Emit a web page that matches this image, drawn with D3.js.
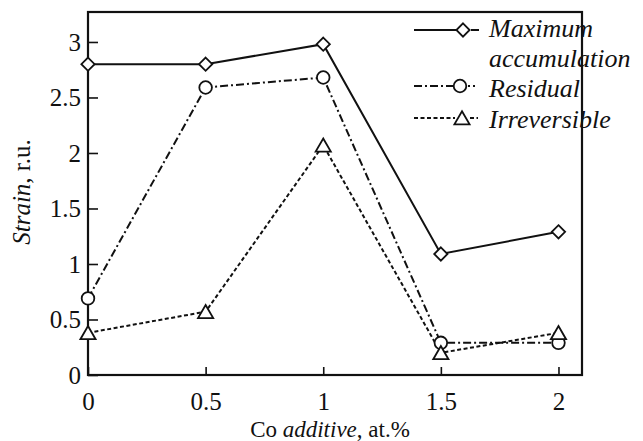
<!DOCTYPE html>
<html>
<head>
<meta charset="utf-8">
<script src="https://cdn.jsdelivr.net/npm/d3@7"></script>
<style>
  body { margin: 0; background: #fff; }
  svg text { font-family: "Liberation Serif", "DejaVu Serif", serif; fill: #111; }
</style>
</head>
<body>
<svg id="chart" width="643" height="441"></svg>
<script>
const additive = [0, 0.5, 1, 1.5, 2];
const maxAccum = [2.8, 2.8, 2.98, 1.09, 1.29];
const residual = [0.69, 2.59, 2.68, 0.29, 0.29];
const irreversible = [0.38, 0.57, 2.07, 0.2, 0.38];
const xTicks = [0, 0.5, 1, 1.5, 2];
const yTicks = [0, 0.5, 1, 1.5, 2, 2.5, 3];

const margin = { top: 12, right: 61, bottom: 66, left: 88 };
const width = 643 - margin.left - margin.right;
const height = 441 - margin.top - margin.bottom;

const svg = d3.select('#chart')
  .append('g')
  .attr('transform', `translate(${margin.left},${margin.top})`);

const xScale = d3.scaleLinear().domain([0, 2.1]).range([0, width]);
const yScale = d3.scaleLinear().domain([0, 3.27]).range([height, 0]);

const axisX = d3.axisBottom(xScale)
  .tickValues(xTicks)
  .tickSizeInner(-8)
  .tickSizeOuter(0)
  .tickPadding(17)
  .tickFormat(d3.format('~g'));

const axisY = d3.axisLeft(yScale)
  .tickValues(yTicks)
  .tickSizeInner(-10)
  .tickSizeOuter(0)
  .tickPadding(7)
  .tickFormat(d3.format('~g'));

const gx = svg.append('g')
  .attr('class', 'axis x')
  .attr('transform', `translate(0, ${height})`)
  .call(axisX);

const gy = svg.append('g')
  .attr('class', 'axis y')
  .call(axisY);

[gx, gy].forEach(g => {
  g.attr('font-family', '"Liberation Serif", serif').attr('font-size', 25);
  g.select('.domain').remove();
  g.selectAll('line').attr('stroke', '#111').attr('stroke-width', 1.6);
  g.selectAll('text').attr('fill', '#111');
});
gx.selectAll('text').attr('dy', '0.71em');
gy.selectAll('text').attr('dy', '0.34em');

svg.append('rect')
  .attr('width', width)
  .attr('height', height)
  .attr('fill', 'none')
  .attr('stroke', '#111')
  .attr('stroke-width', 2.2);

const series = [
  { values: maxAccum, dash: null, marker: 'diamond' },
  { values: residual, dash: '8,3,2,3', marker: 'circle' },
  { values: irreversible, dash: '4,2.5', marker: 'triangle' },
];

const line = d3.line()
  .x((d, i) => xScale(additive[i]))
  .y(d => yScale(d));

const symbols = {
  diamond: d3.symbol().type(d3.symbolDiamond2).size(112),
  circle: d3.symbol().type(d3.symbolCircle).size(125),
  triangle: d3.symbol().type(d3.symbolTriangle2).size(165),
};

series.forEach(s => {
  svg.append('path')
    .datum(s.values)
    .attr('d', line)
    .attr('fill', 'none')
    .attr('stroke', '#111')
    .attr('stroke-width', 2)
    .attr('stroke-dasharray', s.dash);
});

series.forEach(s => {
  svg.selectAll(null)
    .data(s.values)
    .enter().append('path')
    .attr('d', symbols[s.marker])
    .attr('transform', (d, i) => `translate(${xScale(additive[i])},${yScale(d) + (s.marker === 'triangle' ? 2 : 0)})`)
    .attr('fill', '#fff')
    .attr('stroke', '#111')
    .attr('stroke-width', 1.8);
});

// legend
const legend = d3.select('#chart').append('g').attr('transform', 'translate(414, 0)');
const legendRows = [
  { label: ['Maximum', 'accumulation'], y: 30, base: 37, s: series[0], mx: 49 },
  { label: ['Residual'], y: 86, base: 97, s: series[1], mx: 46 },
  { label: ['Irreversible'], y: 118, base: 128, s: series[2], mx: 48 },
];
legendRows.forEach(r => {
  legend.append('line')
    .attr('x1', 0).attr('x2', r.mx - 7)
    .attr('y1', r.y).attr('y2', r.y)
    .attr('stroke', '#111').attr('stroke-width', 2)
    .attr('stroke-dasharray', r.s.dash);
  legend.append('line')
    .attr('x1', r.mx + 8).attr('x2', r.mx + 16)
    .attr('y1', r.y).attr('y2', r.y)
    .attr('stroke', '#111').attr('stroke-width', 2)
    .attr('stroke-dasharray', r.s.marker === 'circle' ? '2,3' : (r.s.dash ? r.s.dash : null));
  legend.append('path')
    .attr('d', symbols[r.s.marker])
    .attr('transform', `translate(${r.mx},${r.y + (r.s.marker === 'triangle' ? 2 : 0)})`)
    .attr('fill', '#fff').attr('stroke', '#111').attr('stroke-width', 1.8);
  r.label.forEach((t, k) => {
    legend.append('text')
      .attr('x', 75)
      .attr('y', r.base + k * 30)
      .style('font-size', '26px')
      .style('font-style', 'italic')
      .text(t);
  });
});

// axis titles
d3.select('#chart').append('text')
  .attr('x', 330)
  .attr('y', 437)
  .attr('text-anchor', 'middle')
  .style('font-size', '23px')
  .html('Co <tspan font-style="italic">additive</tspan>, at.%');

d3.select('#chart').append('text')
  .attr('transform', 'translate(30, 192) rotate(-90)')
  .attr('text-anchor', 'middle')
  .style('font-size', '25px')
  .html('<tspan font-style="italic">Strain</tspan>, r.u.');
</script>
</body>
</html>
